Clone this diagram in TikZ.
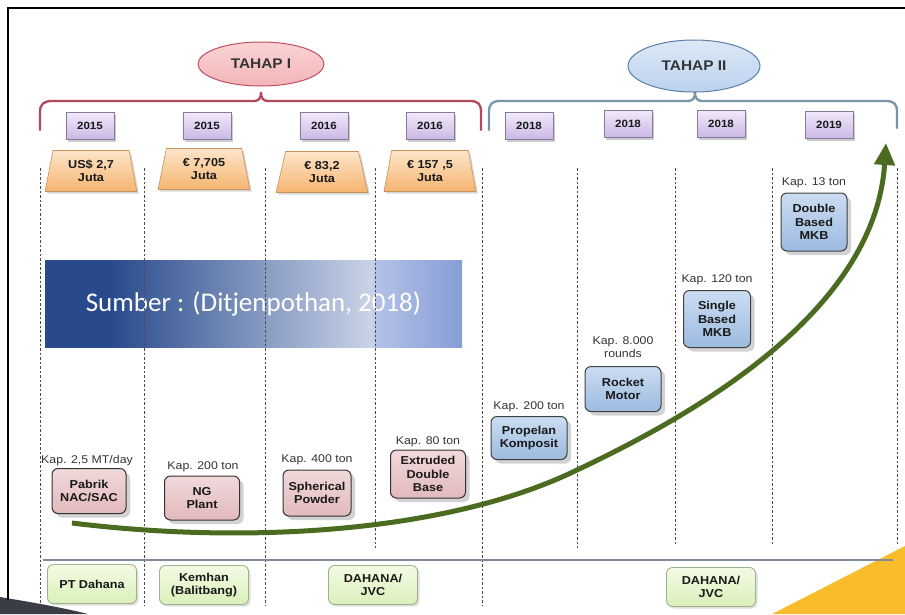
\documentclass[tikz,border=0pt]{standalone}
\usepackage{fontspec}
\setmainfont{Liberation Sans}[FakeStretch=1.1]
\newfontfamily\bannerfont{Carlito}
\usetikzlibrary{shapes.geometric,shadows,arrows.meta}
\definecolor{brI}{HTML}{B34A5C}
\definecolor{brII}{HTML}{7896A8}
\definecolor{elIa}{HTML}{FBD3D3}
\definecolor{elIb}{HTML}{F2B5B9}
\definecolor{elIline}{HTML}{C0505F}
\definecolor{elIIa}{HTML}{DCE8F7}
\definecolor{elIIb}{HTML}{BCD2EE}
\definecolor{elIIline}{HTML}{5B7FA5}
\definecolor{yrA}{HTML}{F1E9F9}
\definecolor{yrB}{HTML}{CBB7E6}
\definecolor{yrLine}{HTML}{857A9C}
\definecolor{trA}{HTML}{FDE5CA}
\definecolor{trB}{HTML}{F6B470}
\definecolor{trLine}{HTML}{C8925C}
\definecolor{pkA}{HTML}{F1D9DA}
\definecolor{pkB}{HTML}{E2B9BC}
\definecolor{blA}{HTML}{CBDDF2}
\definecolor{blB}{HTML}{9CBAE0}
\definecolor{gnA}{HTML}{F3FBE4}
\definecolor{gnB}{HTML}{DAF0BA}
\definecolor{gnLine}{HTML}{9FB08E}
\definecolor{arrowGreen}{HTML}{4B6B20}
\definecolor{dashGray}{HTML}{4A4A4A}
\definecolor{baseLine}{HTML}{7F8C9C}
\definecolor{swooshGray}{HTML}{3A3D45}
\definecolor{yellowCorner}{HTML}{F9BD2B}
\definecolor{bnA}{HTML}{284A8C}
\definecolor{bnB}{HTML}{CAD3E7}
\definecolor{bnC}{HTML}{B4C2E6}
\definecolor{bnD}{HTML}{869DD6}
\pgfdeclarehorizontalshading{bannershade}{100bp}{color(0bp)=(bnA); color(32.8bp)=(bnA); color(64.2bp)=(bnB); color(64.6bp)=(bnC); color(75bp)=(bnD); color(100bp)=(bnD)}
\begin{document}
\begin{tikzpicture}[x=1pt,y=-1pt,
  boxfont/.style={font=\bfseries\fontsize{11.5}{13.5}\selectfont, text=black!90, align=center},
  kap/.style={font=\fontsize{11.2}{13}\selectfont, text=black!80, align=center, inner sep=0pt},
  yearbox/.style={draw=yrLine, line width=0.8pt, top color=yrA, bottom color=yrB, minimum width=48pt, minimum height=27pt, inner sep=0pt, font=\bfseries\fontsize{10.5}{12}\selectfont, text=black!90, drop shadow={shadow xshift=2pt, shadow yshift=-2pt, fill=black!40, opacity=0.5}},
  money/.style={trapezium, trapezium stretches=true, trapezium left angle=78, trapezium right angle=78, draw=trLine, line width=0.6pt, top color=trA, bottom color=trB, minimum width=92pt, minimum height=41pt, inner sep=0pt, boxfont, drop shadow={shadow xshift=2pt, shadow yshift=-2pt, fill=black!30, opacity=0.5}},
  pinkbox/.style={draw=black!80, line width=1pt, rounded corners=6pt, top color=pkA, bottom color=pkB, inner sep=0pt, boxfont, drop shadow={shadow xshift=4pt, shadow yshift=-4pt, fill=black!35, opacity=0.5}},
  bluebox/.style={draw=black!75, line width=1pt, rounded corners=6pt, top color=blA, bottom color=blB, inner sep=0pt, boxfont, drop shadow={shadow xshift=4pt, shadow yshift=-4pt, fill=black!35, opacity=0.5}},
  greenbox/.style={draw=gnLine, line width=0.9pt, rounded corners=6pt, top color=gnA, bottom color=gnB, minimum width=89pt, minimum height=39pt, inner sep=0pt, boxfont, drop shadow={shadow xshift=2pt, shadow yshift=-2pt, fill=black!25, opacity=0.5}},
  divider/.style={draw=dashGray, line width=0.9pt, dash pattern=on 2.5pt off 2pt},
  bracket/.style={line width=2.3pt, line cap=round},
  phase/.style={ellipse, line width=1pt, inner sep=0pt, font=\bfseries\fontsize{14}{16}\selectfont, text=black!80},
  growth/.style={draw=arrowGreen, line width=5pt, -{Triangle[length=22pt,width=20pt]}}
]
\useasboundingbox (0,0) rectangle (905,614);

% decorative corners and frame
\fill[swooshGray] (0,597) .. controls (30,602) and (60,607) .. (88,614) -- (0,614) -- cycle;
\fill[yellowCorner] (772,614) -- (905,546) -- (905,614) -- cycle;
\draw[line width=2.5pt] (8,600) -- (8,8) -- (905,8);

% banner
\node[shade, shading=bannershade, minimum width=417pt, minimum height=87pt, inner sep=0pt,
      text=white, font=\bannerfont\fontsize{27}{30}\selectfont] (banner) at (253.5,303.5) {Sumber : (Ditjenpothan, 2018)};

% dashed dividers
\foreach \x/\yb in {40/605, 144/605, 265/605, 375/548, 482/605, 577/548, 675/545, 772/545, 897/545}
  \draw[divider] (\x,168) -- (\x,\yb);

% base line
\draw[draw=baseLine, line width=2pt] (43,560) -- (893,560);

% brackets
\draw[bracket, draw=brI] (40,130) -- (40,112) .. controls (40,104) and (44,101) .. (52,101) -- (254,101) .. controls (259,101) and (261,98) .. (261,92) .. controls (261,98) and (263,101) .. (268,101) -- (470,101) .. controls (478,101) and (481,104) .. (481,112) -- (481,130);
\draw[bracket, draw=brII] (489,130) -- (489,112) .. controls (489,104) and (492,101) .. (500,101) -- (688,101) .. controls (693,101) and (695,98) .. (695,92) .. controls (695,98) and (697,101) .. (702,101) -- (886,101) .. controls (894,101) and (897,104) .. (897,112) -- (897,128);

% phase ellipses
\node[phase, draw=elIline, top color=elIa, bottom color=elIb, minimum width=126pt, minimum height=44pt] (tahapI) at (261,64) {TAHAP I};
\node[phase, draw=elIIline, top color=elIIa, bottom color=elIIb, minimum width=132pt, minimum height=52pt] (tahapII) at (694,66) {TAHAP II};

% years
\node[yearbox] (y1) at (90,126) {2015};
\node[yearbox] (y2) at (207,126) {2015};
\node[yearbox] (y3) at (324,126) {2016};
\node[yearbox] (y4) at (430,126) {2016};
\node[yearbox] (y5) at (529,126) {2018};
\node[yearbox] (y6) at (628,124) {2018};
\node[yearbox] (y7) at (721,124) {2018};
\node[yearbox] (y8) at (829,125) {2019};

% investment
\node[money] (m1) at (91,171) {US\$ 2,7\\Juta};
\node[money] (m2) at (204,169) {€ 7,705\\Juta};
\node[money] (m3) at (322,172) {€ 83,2\\Juta};
\node[money] (m4) at (430,171) {€ 157 ,5\\Juta};

% stage I plants
\node[kap] (k1) at (87,461) {Kap. 2,5 MT/day};
\node[pinkbox, minimum width=74pt, minimum height=45pt] (p1) at (89,491) {Pabrik\\NAC/SAC};
\node[kap] (k2) at (203,467) {Kap. 200 ton};
\node[pinkbox, minimum width=75pt, minimum height=44pt] (p2) at (202,498) {NG\\Plant};
\node[kap] (k3) at (317,460) {Kap. 400 ton};
\node[pinkbox, minimum width=68pt, minimum height=46pt] (p3) at (317,493) {Spherical\\Powder};
\node[kap] (k4) at (428,442) {Kap. 80 ton};
\node[pinkbox, minimum width=75pt, minimum height=48pt] (p4) at (428,474) {Extruded\\Double\\Base};

% stage II plants
\node[kap] (k5) at (529,407) {Kap. 200 ton};
\node[bluebox, minimum width=76pt, minimum height=43pt] (b1) at (529,438) {Propelan\\Komposit};
\node[kap] (k6) at (623,347) {Kap. 8.000\\rounds};
\node[bluebox, minimum width=76pt, minimum height=45pt] (b2) at (623,389) {Rocket\\Motor};
\node[kap] (k7) at (717,280) {Kap. 120 ton};
\node[bluebox, minimum width=67pt, minimum height=57pt] (b3) at (717,319) {Single\\Based\\MKB};
\node[kap] (k8) at (814,183) {Kap. 13 ton};
\node[bluebox, minimum width=66pt, minimum height=58pt] (b4) at (814,222) {Double\\Based\\MKB};

% operators
\node[greenbox] (g1) at (92,584) {PT Dahana};
\node[greenbox] (g2) at (204,585) {Kemhan\\(Balitbang)};
\node[greenbox] (g3) at (373,585) {DAHANA/\\JVC};
\node[greenbox] (g4) at (711,587) {DAHANA/\\JVC};

% growth arrow
\coordinate (arrStart) at (72,523);
\coordinate (arrMid) at (577,470);
\coordinate (arrEnd) at (886,143);
\draw[growth] (arrStart) .. controls (250,545) and (450,532) .. (arrMid) .. controls (700,412) and (875,310) .. (arrEnd);
\end{tikzpicture}
\end{document}
